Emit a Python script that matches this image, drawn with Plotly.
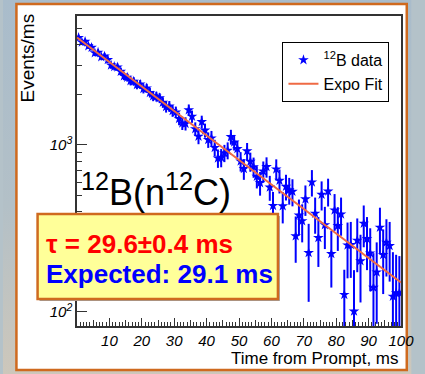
import base64
import numpy as np
import plotly.graph_objects as go

# ---- data: 12B decay-time histogram (1 ms bins) ----
time_ms = [i + 0.5 for i in range(100)]
events_per_ms = [
    4387, 4123, 4157, 3909, 3832, 3555, 3582, 3367, 3394, 3237,
    3003, 2942, 2924, 2750, 2585, 2536, 2417, 2402, 2291, 2309,
    2170, 2188, 2057, 1961, 1950, 1911, 1797, 1691, 1704, 1601,
    1570, 1436, 1351, 1342, 1619, 1481, 1247, 1125, 1375, 1224,
    1074, 1098, 963, 834, 840, 895, 928, 1118, 1037, 948,
    799, 720, 919, 795, 738, 647, 593, 695, 740, 558,
    433, 716, 612, 431, 564, 537, 526, 285, 379, 351,
    474, 226, 599, 389, 278, 505, 332, 528, 223, 407,
    328, 385, 127, 251, 253, 101, 268, 202, 339, 274,
    225, 140, 173, 321, 220, 261, 249, 124, 130, 130,
]
errors = [
    160, 158, 158, 155, 155, 152, 152, 150, 150, 148,
    147, 146, 145, 143, 142, 141, 140, 139, 138, 137,
    136, 135, 134, 133, 132, 131, 130, 129, 128, 127,
    126, 124, 122, 122, 128, 125, 118, 115, 122, 118,
    114, 115, 110, 105, 105, 106, 108, 114, 111, 108,
    106, 102, 108, 104, 102, 98, 96, 101, 103, 95,
    90, 104, 100, 92, 99, 98, 97, 88, 92, 90,
    98, 111, 108, 95, 92, 100, 94, 100, 83, 101,
    96, 99, 52, 92, 93, 77, 95, 88, 95, 96,
    92, 85, 88, 100, 92, 98, 97, 104, 90, 86,
]

# exponential fit parameters
FIT_AMPLITUDE = 4400.0
TAU_FIT = 29.6
TAU_ERR = 0.4
TAU_EXPECTED = 29.1

x_tick_vals = [10, 20, 30, 40, 50, 60, 70, 80, 90, 100]
x_tick_text = [f"<i>{v}</i>" for v in x_tick_vals]
y_tick_vals = [100, 1000]
y_tick_text = ["<i>10<sup>2</sup></i>", "<i>10<sup>3</sup></i>"]
y_minor_vals = [200, 300, 400, 500, 600, 700, 800, 900, 2000, 3000, 4000, 5000]

X_RANGE = [0, 100]
Y_RANGE = [1.916, 3.772]  # log10 units

FONT = "Liberation Sans, Arial, Helvetica, sans-serif"
W, H = 425, 374
ML, MR, MT, MB = 77, 11, 16, 48
PW, PH = W - ML - MR, H - MT - MB


def px_x(p):
    return (p - ML) / PW


def px_y(p):
    return (H - MB - p) / PH


fit_t = np.linspace(0, 100, 400)
fit_y = FIT_AMPLITUDE * np.exp(-fit_t / TAU_FIT)

fig = go.Figure()
fig.add_trace(go.Scatter(
    x=time_ms, y=events_per_ms, mode="markers",
    name="<sup>12</sup>B data",
    marker=dict(symbol="star", size=8, color="#0000ff", line=dict(width=0)),
    error_y=dict(type="data", array=errors, visible=True,
                 thickness=2, width=0, color="#0000ff"),
))
fig.add_trace(go.Scatter(
    x=fit_t, y=fit_y, mode="lines", name="Expo Fit",
    line=dict(color="#ef6a44", width=2),
))
# invisible trace anchoring the secondary axis used for the 5 ms ticks
fig.add_trace(go.Scatter(x=[None], y=[None], xaxis="x2", showlegend=False,
                         hoverinfo="skip"))

axis_col = "#333333"
fig.update_layout(
    width=W, height=H,
    margin=dict(l=ML, r=MR, t=MT, b=MB),
    paper_bgcolor="#b4c2c9",
    plot_bgcolor="white",
    font=dict(family=FONT, color="black"),
    showlegend=True,
    legend=dict(
        x=px_x(402), xanchor="right", y=px_y(42), yanchor="top",
        bgcolor="white", bordercolor="black", borderwidth=1,
        font=dict(family=FONT, size=16, color="black"),
        itemwidth=30, tracegroupgap=0,
    ),
    xaxis=dict(
        range=X_RANGE, showgrid=False, zeroline=False,
        showline=True, linecolor=axis_col, linewidth=1.5, mirror=True,
        tickmode="array", tickvals=x_tick_vals, ticktext=x_tick_text,
        ticks="inside", ticklen=8, tickwidth=1, tickcolor=axis_col,
        tickfont=dict(family=FONT, size=15, color="black"),
        ticklabeloverflow="allow",
        minor=dict(dtick=1, tick0=0, ticks="inside", ticklen=4,
                   tickwidth=1, tickcolor=axis_col, showgrid=False),
    ),
    xaxis2=dict(
        range=X_RANGE, overlaying="x", anchor="y", side="bottom",
        showgrid=False, zeroline=False, showline=False,
        tickmode="array", tickvals=[5, 15, 25, 35, 45, 55, 65, 75, 85, 95],
        ticktext=[""] * 10,
        ticks="inside", ticklen=6, tickwidth=1, tickcolor=axis_col,
        showticklabels=False,
    ),
    yaxis=dict(
        type="log", range=Y_RANGE, showgrid=False, zeroline=False,
        showline=True, linecolor=axis_col, linewidth=1.5, mirror=True,
        tickmode="array", tickvals=y_tick_vals, ticktext=y_tick_text,
        ticks="inside", ticklen=10, tickwidth=1, tickcolor=axis_col,
        tickfont=dict(family=FONT, size=15, color="black"),
        minor=dict(tickvals=y_minor_vals, ticks="inside", ticklen=5,
                   tickwidth=1, tickcolor=axis_col, showgrid=False),
    ),
)

# slide background behind the framed panel
svg = (
    '<svg xmlns="http://www.w3.org/2000/svg" width="425" height="374">'
    '<defs><linearGradient id="g" x1="0" y1="0" x2="0" y2="1">'
    '<stop offset="0" stop-color="#a9bccb"/>'
    '<stop offset="0.55" stop-color="#b3c0c7"/>'
    '<stop offset="1" stop-color="#cdc7bb"/>'
    '</linearGradient></defs>'
    '<rect width="425" height="374" fill="url(#g)"/></svg>'
)
bg_src = "data:image/svg+xml;base64," + base64.b64encode(svg.encode()).decode()
fig.add_layout_image(dict(
    source=bg_src, xref="paper", yref="paper",
    x=px_x(0), y=px_y(0), sizex=W / PW, sizey=H / PH,
    xanchor="left", yanchor="top", sizing="stretch", layer="below",
))

border_col = "#cf6a1f"
# white panel with orange frame
fig.add_shape(type="rect", xref="paper", yref="paper", layer="below",
              x0=px_x(14), x1=px_x(420), y0=px_y(370), y1=px_y(4),
              fillcolor="white", line=dict(color=border_col, width=2.5))
# result box (shadow + box)
fig.add_shape(type="rect", xref="paper", yref="paper", layer="above",
              x0=px_x(38), x1=px_x(288), y0=px_y(301), y1=px_y(216),
              fillcolor="#a0a0a0", line=dict(width=0))
fig.add_shape(type="rect", xref="paper", yref="paper", layer="above",
              x0=px_x(36), x1=px_x(286), y0=px_y(299), y1=px_y(214),
              fillcolor="#ffff99", line=dict(color=border_col, width=2.5))

ann = [
    dict(text="<sup>12</sup>B(n<sup>12</sup>C)", x=px_x(79), y=px_y(190),
         xanchor="left", yanchor="middle",
         font=dict(family=FONT, size=36, color="black")),
    dict(text=f"<b>\u03c4 = {TAU_FIT}\u00b1{TAU_ERR} ms</b>",
         x=px_x(43), y=px_y(244), xanchor="left", yanchor="middle",
         font=dict(family=FONT, size=26, color="#ff0000")),
    dict(text=f"<b>Expected: {TAU_EXPECTED} ms</b>",
         x=px_x(43), y=px_y(274), xanchor="left", yanchor="middle",
         font=dict(family=FONT, size=26, color="#0000ff")),
    dict(text="Events/ms", textangle=-90, x=px_x(25), y=px_y(12),
         xanchor="center", yanchor="top",
         font=dict(family=FONT, size=19, color="black")),
    dict(text="Time from Prompt, ms", x=px_x(414), y=px_y(358),
         xanchor="right", yanchor="middle",
         font=dict(family=FONT, size=17, color="black")),
]
for a in ann:
    fig.add_annotation(xref="paper", yref="paper", showarrow=False, **a)

fig.write_html("out.html")
